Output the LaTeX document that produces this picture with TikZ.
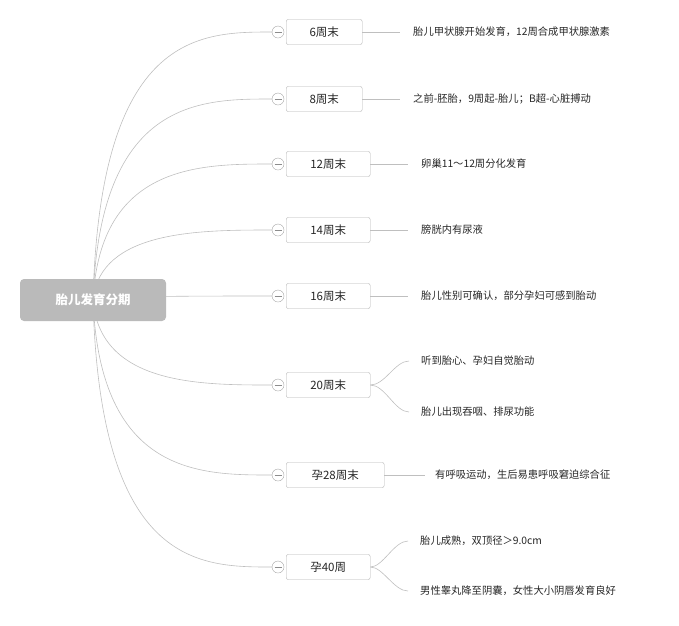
\documentclass[tikz,border=0pt]{standalone}
\usepackage{fontspec}
\setmainfont{Noto Sans CJK SC}
\begin{document}
\begin{tikzpicture}[x=1pt,y=-1pt,
  ln/.style={draw=black!25,line width=0.6pt},
  kid/.style={draw=black!30,fill=white,rounded corners=2pt,minimum height=25pt,inner sep=0pt,font=\fontsize{11.5}{12}\selectfont,text=black!85},
  leaf/.style={anchor=west,inner sep=0pt,font=\fontsize{10.3}{11}\selectfont,text=black!85},
  tog/.style={circle,draw=black!35,fill=white,minimum size=12pt,inner sep=0pt}]
\useasboundingbox (0,0) rectangle (679,625);
\coordinate (org) at (93,300);
\foreach \n/\y in {a/32,b/99,c/164,d/230,e/296,f/385,g/475,h/567}{
  \coordinate (c\n) at (272,\y);
  \draw[ln] (org) .. controls (100,\y) and (200,\y) .. (c\n);
}
\node[fill=black!27,rounded corners=4pt,minimum width=146pt,minimum height=42pt,text=white,font=\bfseries\fontsize{12.5}{14}\selectfont] (root) at (org) {胎儿发育分期};
\foreach \n/\t/\y/\w in {a/6周末/32/76,b/8周末/99/76,c/12周末/164/84,d/14周末/230/84,e/16周末/296/84,f/20周末/385/84,g/孕28周末/475/98,h/孕40周/567/84}{
  \node[kid,minimum width=\w pt,anchor=west] (\n) at (286,\y) {\t};
  \node[tog] (t\n) at (278,\y) {};
  \draw[black!45,line width=0.5pt] ([xshift=-3.5pt]t\n.center) -- ([xshift=3.5pt]t\n.center);
}
\node[leaf] (la) at (413,32) {胎儿甲状腺开始发育，12周合成甲状腺激素};
\node[leaf] (lb) at (413,99) {之前-胚胎，9周起-胎儿；B超-心脏搏动};
\node[leaf] (lc) at (421,164) {卵巢11～12周分化发育};
\node[leaf] (ld) at (421,230) {膀胱内有尿液};
\node[leaf] (le) at (421,296) {胎儿性别可确认，部分孕妇可感到胎动};
\node[leaf] (lf1) at (421,361) {听到胎心、孕妇自觉胎动};
\node[leaf] (lf2) at (421,412) {胎儿出现吞咽、排尿功能};
\node[leaf] (lg) at (435,475) {有呼吸运动，生后易患呼吸窘迫综合征};
\node[leaf] (lh1) at (420,541) {胎儿成熟，双顶径＞9.0cm};
\node[leaf] (lh2) at (420,591) {男性睾丸降至阴囊，女性大小阴唇发育良好};
\draw[ln] (a.east) -- ([xshift=-13pt]la.west);
\draw[ln] (b.east) -- ([xshift=-13pt]lb.west);
\draw[ln] (c.east) -- ([xshift=-13pt]lc.west);
\draw[ln] (d.east) -- ([xshift=-13pt]ld.west);
\draw[ln] (e.east) -- ([xshift=-13pt]le.west);
\draw[ln] (g.east) -- ([xshift=-10pt]lg.west);
\draw[ln] (f.east) .. controls (385,385) and (395,361) .. ([xshift=-12pt]lf1.west);
\draw[ln] (f.east) .. controls (385,385) and (395,412) .. ([xshift=-12pt]lf2.west);
\draw[ln] (h.east) .. controls (383,567) and (394,541) .. ([xshift=-12pt]lh1.west);
\draw[ln] (h.east) .. controls (383,567) and (394,591) .. ([xshift=-12pt]lh2.west);
\end{tikzpicture}
\end{document}
